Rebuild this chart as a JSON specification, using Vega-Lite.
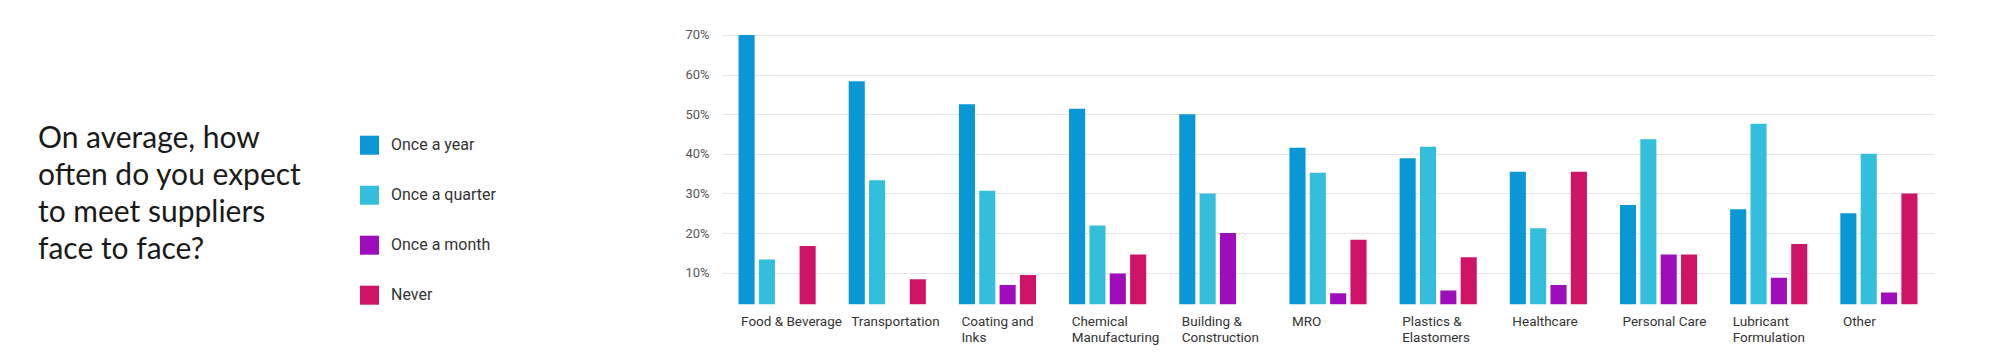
{
  "$schema": "https://vega.github.io/schema/vega-lite/v6.json",
  "autosize": "none",
  "width": 1212,
  "height": 269.3,
  "padding": {"left": 722, "top": 35, "right": 66, "bottom": 56},
  "background": "white",
  "title": {
    "text": ["On average, how", "often do you expect", "to meet suppliers", "face to face?"],
    "orient": "top",
    "anchor": "start",
    "frame": "group",
    "font": "Lato",
    "fontSize": 30,
    "fontWeight": "normal",
    "color": "#1a1a1a",
    "lineHeight": 37,
    "baseline": "alphabetic",
    "offset": 0,
    "dx": -684,
    "dy": 260
  },
  "data": {
    "values": [
      {"industry": "Food & Beverage", "frequency": "Once a year", "pct": 70},
      {"industry": "Food & Beverage", "frequency": "Once a quarter", "pct": 13.3},
      {"industry": "Food & Beverage", "frequency": "Once a month", "pct": 0},
      {"industry": "Food & Beverage", "frequency": "Never", "pct": 16.7},
      {"industry": "Transportation", "frequency": "Once a year", "pct": 58.3},
      {"industry": "Transportation", "frequency": "Once a quarter", "pct": 33.3},
      {"industry": "Transportation", "frequency": "Once a month", "pct": 0},
      {"industry": "Transportation", "frequency": "Never", "pct": 8.3},
      {"industry": "Coating and Inks", "frequency": "Once a year", "pct": 52.5},
      {"industry": "Coating and Inks", "frequency": "Once a quarter", "pct": 30.7},
      {"industry": "Coating and Inks", "frequency": "Once a month", "pct": 6.9},
      {"industry": "Coating and Inks", "frequency": "Never", "pct": 9.4},
      {"industry": "Chemical Manufacturing", "frequency": "Once a year", "pct": 51.4},
      {"industry": "Chemical Manufacturing", "frequency": "Once a quarter", "pct": 21.9},
      {"industry": "Chemical Manufacturing", "frequency": "Once a month", "pct": 9.8},
      {"industry": "Chemical Manufacturing", "frequency": "Never", "pct": 14.6},
      {"industry": "Building & Construction", "frequency": "Once a year", "pct": 50},
      {"industry": "Building & Construction", "frequency": "Once a quarter", "pct": 30},
      {"industry": "Building & Construction", "frequency": "Once a month", "pct": 20},
      {"industry": "Building & Construction", "frequency": "Never", "pct": 0},
      {"industry": "MRO", "frequency": "Once a year", "pct": 41.5},
      {"industry": "MRO", "frequency": "Once a quarter", "pct": 35.2},
      {"industry": "MRO", "frequency": "Once a month", "pct": 4.8},
      {"industry": "MRO", "frequency": "Never", "pct": 18.3},
      {"industry": "Plastics & Elastomers", "frequency": "Once a year", "pct": 38.9},
      {"industry": "Plastics & Elastomers", "frequency": "Once a quarter", "pct": 41.8},
      {"industry": "Plastics & Elastomers", "frequency": "Once a month", "pct": 5.5},
      {"industry": "Plastics & Elastomers", "frequency": "Never", "pct": 13.9},
      {"industry": "Healthcare", "frequency": "Once a year", "pct": 35.5},
      {"industry": "Healthcare", "frequency": "Once a quarter", "pct": 21.2},
      {"industry": "Healthcare", "frequency": "Once a month", "pct": 6.9},
      {"industry": "Healthcare", "frequency": "Never", "pct": 35.5},
      {"industry": "Personal Care", "frequency": "Once a year", "pct": 27.1},
      {"industry": "Personal Care", "frequency": "Once a quarter", "pct": 43.7},
      {"industry": "Personal Care", "frequency": "Once a month", "pct": 14.6},
      {"industry": "Personal Care", "frequency": "Never", "pct": 14.6},
      {"industry": "Lubricant Formulation", "frequency": "Once a year", "pct": 26},
      {"industry": "Lubricant Formulation", "frequency": "Once a quarter", "pct": 47.6},
      {"industry": "Lubricant Formulation", "frequency": "Once a month", "pct": 8.7},
      {"industry": "Lubricant Formulation", "frequency": "Never", "pct": 17.2},
      {"industry": "Other", "frequency": "Once a year", "pct": 25},
      {"industry": "Other", "frequency": "Once a quarter", "pct": 40},
      {"industry": "Other", "frequency": "Once a month", "pct": 5},
      {"industry": "Other", "frequency": "Never", "pct": 30}
    ]
  },
  "mark": {"type": "bar", "clip": true},
  "encoding": {
    "x": {
      "field": "industry",
      "type": "nominal",
      "sort": null,
      "scale": {"paddingInner": 0.3, "paddingOuter": 0.15},
      "axis": {
        "title": null,
        "domain": false,
        "ticks": false,
        "tickSize": 0,
        "labelAngle": 0,
        "labelAlign": "left",
        "labelBaseline": "top",
        "labelOffset": -36,
        "labelPadding": 10,
        "labelFont": "Roboto",
        "labelFontSize": 13.5,
        "labelColor": "#333333",
        "labelLineHeight": 16,
        "labelLimit": 200,
        "labelExpr": "datum.value == 'Coating and Inks' ? ['Coating and', 'Inks'] : datum.value == 'Chemical Manufacturing' ? ['Chemical', 'Manufacturing'] : datum.value == 'Building & Construction' ? ['Building &', 'Construction'] : datum.value == 'Plastics & Elastomers' ? ['Plastics &', 'Elastomers'] : datum.value == 'Lubricant Formulation' ? ['Lubricant', 'Formulation'] : datum.value"
      }
    },
    "xOffset": {
      "field": "frequency",
      "type": "nominal",
      "sort": ["Once a year", "Once a quarter", "Once a month", "Never"],
      "scale": {"paddingInner": 0.21, "paddingOuter": 0}
    },
    "y": {
      "field": "pct",
      "type": "quantitative",
      "scale": {"domain": [2, 70], "zero": false, "nice": false},
      "axis": {
        "title": null,
        "domain": false,
        "ticks": false,
        "tickSize": 0,
        "values": [10, 20, 30, 40, 50, 60, 70],
        "labelExpr": "datum.value + '%'",
        "labelPadding": 13,
        "labelFont": "Roboto",
        "labelFontSize": 13,
        "labelColor": "#555555",
        "grid": true,
        "gridColor": "#e6e6e6",
        "gridWidth": 1
      }
    },
    "color": {
      "field": "frequency",
      "type": "nominal",
      "scale": {
        "domain": ["Once a year", "Once a quarter", "Once a month", "Never"],
        "range": ["#0a97d6", "#33bfdb", "#9e0cbc", "#cf1367"]
      },
      "legend": {
        "title": null,
        "orient": "none",
        "legendX": -362,
        "legendY": 100.7,
        "direction": "vertical",
        "symbolType": "square",
        "symbolSize": 361,
        "symbolStrokeWidth": 0,
        "rowPadding": 31,
        "labelOffset": 12,
        "labelFont": "Roboto",
        "labelFontSize": 16,
        "labelColor": "#333333",
        "padding": 0
      }
    }
  },
  "config": {
    "view": {"stroke": null}
  }
}
